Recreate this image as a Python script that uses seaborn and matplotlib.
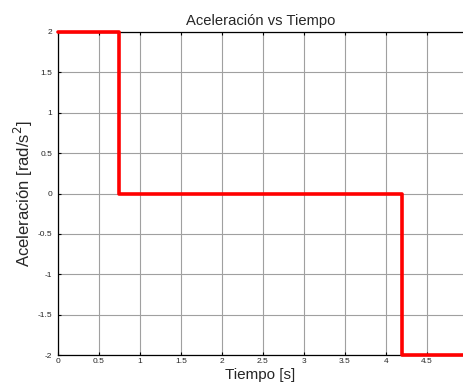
import matplotlib
matplotlib.use("Agg")
import matplotlib.pyplot as plt
import seaborn as sns
import pandas as pd
import numpy as np

tiempo = [0.0, 0.75, 4.2, 4.95]
aceleracion = [2.0, 0.0, -2.0, -2.0]
xticks = [0, 0.5, 1, 1.5, 2, 2.5, 3, 3.5, 4, 4.5]
yticks = [-2, -1.5, -1, -0.5, 0, 0.5, 1, 1.5, 2]

sns.set_style("white")
plt.rcParams['font.family'] = ['Liberation Sans', 'DejaVu Sans']
plt.rcParams['axes.unicode_minus'] = False

df = pd.DataFrame({"t": tiempo, "a": aceleracion})

fig = plt.figure(figsize=(4.63, 3.85), dpi=100)
ax = fig.add_axes([58/463, 1-355/385, 1-58/463, (355-32)/385])
sns.lineplot(data=df, x="t", y="a", drawstyle="steps-post", color="#ff0000",
             linewidth=2.6, ax=ax, clip_on=False, zorder=5)
ax.set_xlim(0, 4.94)
ax.set_ylim(-2, 2)
ax.set_xticks(xticks)
ax.set_xticklabels([f"{v:g}" for v in xticks])
ax.set_yticks(yticks)
ax.set_yticklabels([f"{v:g}" for v in yticks])
ax.grid(True, color="#a0a0a0", linewidth=0.8)
ax.tick_params(axis="both", direction="in", length=2.5, width=0.8, labelsize=6,
               pad=2, top=True, bottom=True, left=True, right=False, color="black")
ax.tick_params(axis="y", pad=4)
for s in ["left", "bottom", "top"]:
    ax.spines[s].set_color("black")
    ax.spines[s].set_linewidth(0.9)
ax.spines["right"].set_visible(False)
ax.set_title("Aceleración vs Tiempo", fontsize=10.6, pad=5)
ax.set_xlabel("Tiempo [s]", fontsize=11, labelpad=2)
ax.set_ylabel("Aceleración [rad/s$^2$]", fontsize=12, labelpad=2)
fig.savefig("out.png", dpi=100)
